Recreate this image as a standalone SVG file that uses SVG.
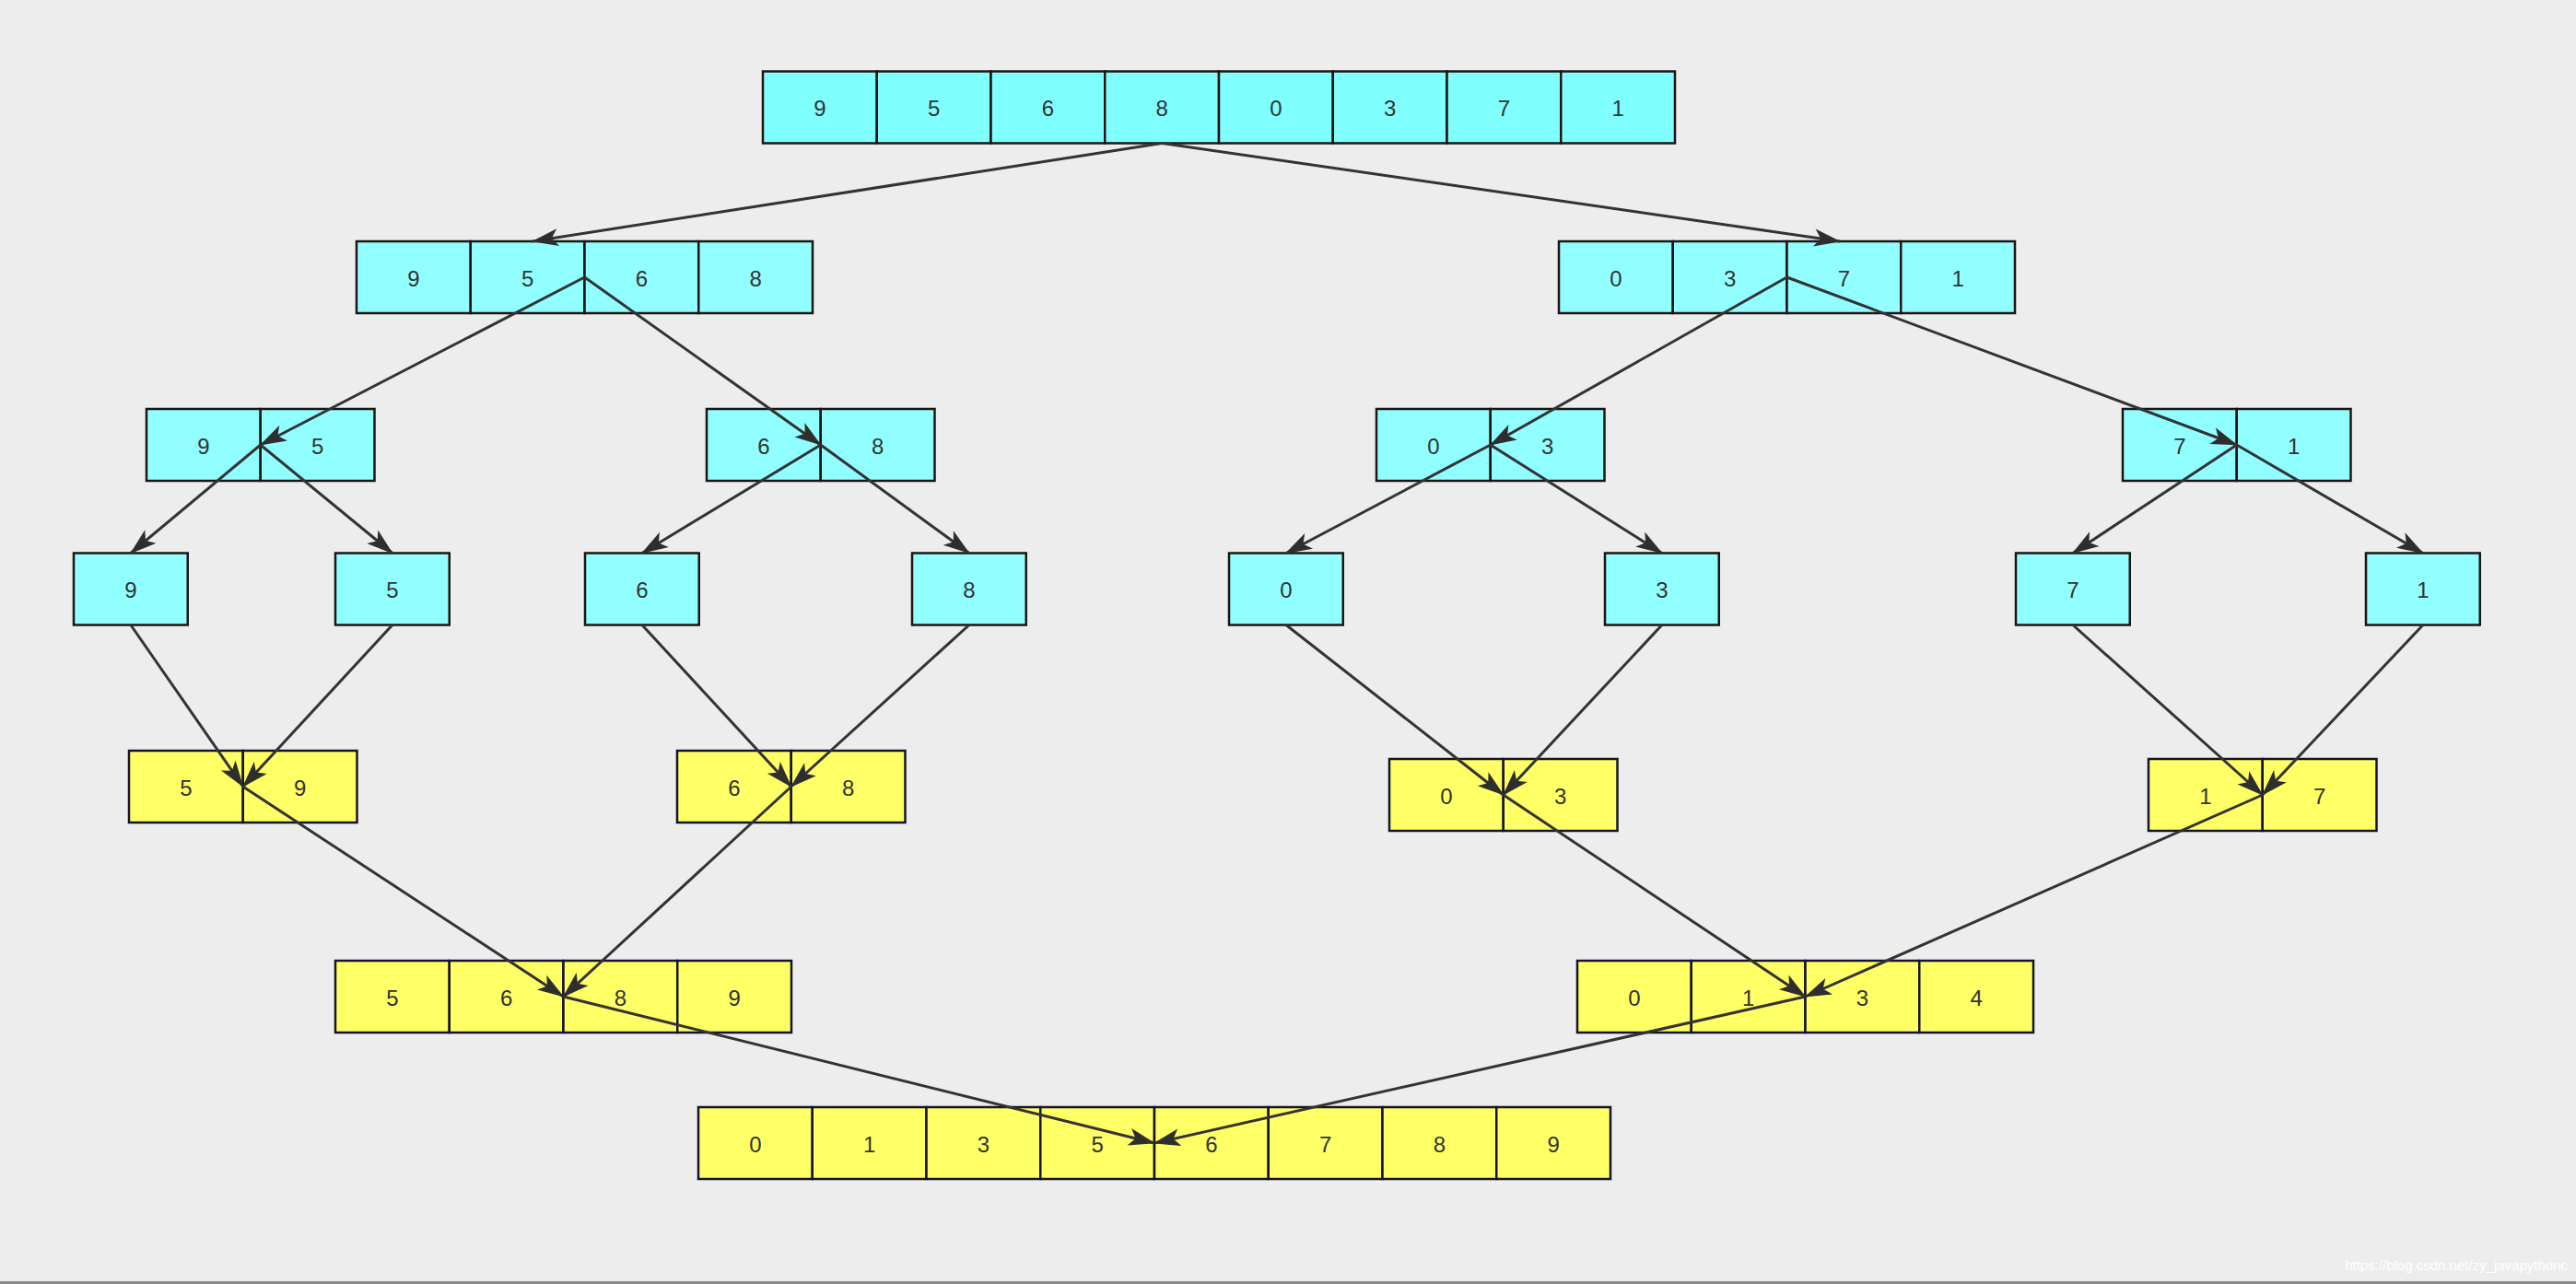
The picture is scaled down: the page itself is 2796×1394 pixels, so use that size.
<svg xmlns="http://www.w3.org/2000/svg" width="2796" height="1394" viewBox="0 0 2796 1394">
<style>
.c0{fill:#80ffff;stroke:#1e1414;stroke-width:2.5}
.c{fill:#91ffff;stroke:#1e1414;stroke-width:2.5}
.y{fill:#ffff66;stroke:#14142a;stroke-width:2.5}
text.t{font-family:"Liberation Sans","DejaVu Sans",sans-serif;font-size:24px;fill:#333;text-anchor:middle;dominant-baseline:central}
#connectors line{stroke:#333;stroke-width:3;fill:none;marker-end:url(#ah)}
</style>
<defs>
<marker id="ah" markerUnits="userSpaceOnUse" viewBox="-30 -11 32 22" refX="0" refY="0" markerWidth="32" markerHeight="22" orient="auto">
<path d="M1,0 L-28,-9.5 L-21,0 L-28,9.5 Z" fill="#2e2e2e"/>
</marker>
</defs>
<rect width="2796" height="1394" fill="#ededed"/>
<rect x="0" y="1391" width="2796" height="3" fill="#8a8a8a"/>
<text x="2787" y="1379" font-family="Liberation Sans, Arial, sans-serif" font-size="15" fill="#ffffff" text-anchor="end">https://blog.csdn.net/zy_javapythonc</text>

<g id="n1">
<rect class="c0" x="828" y="77.5" width="123.75" height="78"/><rect class="c0" x="951.75" y="77.5" width="123.75" height="78"/><rect class="c0" x="1075.5" y="77.5" width="123.75" height="78"/><rect class="c0" x="1199.25" y="77.5" width="123.75" height="78"/><rect class="c0" x="1323" y="77.5" width="123.75" height="78"/><rect class="c0" x="1446.75" y="77.5" width="123.75" height="78"/><rect class="c0" x="1570.5" y="77.5" width="123.75" height="78"/><rect class="c0" x="1694.25" y="77.5" width="123.75" height="78"/>
<text class="t" x="889.9" y="117.5">9</text><text class="t" x="1013.6" y="117.5">5</text><text class="t" x="1137.4" y="117.5">6</text><text class="t" x="1261.1" y="117.5">8</text><text class="t" x="1384.9" y="117.5">0</text><text class="t" x="1508.6" y="117.5">3</text><text class="t" x="1632.4" y="117.5">7</text><text class="t" x="1756.1" y="117.5">1</text>
</g>

<g id="n2L">
<rect class="c" x="387" y="262" width="123.75" height="78"/><rect class="c" x="510.75" y="262" width="123.75" height="78"/><rect class="c" x="634.5" y="262" width="123.75" height="78"/><rect class="c" x="758.25" y="262" width="123.75" height="78"/>
<text class="t" x="448.9" y="302">9</text><text class="t" x="572.6" y="302">5</text><text class="t" x="696.4" y="302">6</text><text class="t" x="820.1" y="302">8</text>
</g>
<g id="n2R">
<rect class="c" x="1692" y="262" width="123.75" height="78"/><rect class="c" x="1815.75" y="262" width="123.75" height="78"/><rect class="c" x="1939.5" y="262" width="123.75" height="78"/><rect class="c" x="2063.25" y="262" width="123.75" height="78"/>
<text class="t" x="1753.9" y="302">0</text><text class="t" x="1877.6" y="302">3</text><text class="t" x="2001.4" y="302">7</text><text class="t" x="2125.1" y="302">1</text>
</g>

<g id="n3a">
<rect class="c" x="159" y="444" width="123.75" height="78"/><rect class="c" x="282.75" y="444" width="123.75" height="78"/>
<text class="t" x="220.9" y="484">9</text><text class="t" x="344.6" y="484">5</text>
</g>
<g id="n3b">
<rect class="c" x="767" y="444" width="123.75" height="78"/><rect class="c" x="890.75" y="444" width="123.75" height="78"/>
<text class="t" x="828.9" y="484">6</text><text class="t" x="952.6" y="484">8</text>
</g>
<g id="n3c">
<rect class="c" x="1494" y="444" width="123.75" height="78"/><rect class="c" x="1617.75" y="444" width="123.75" height="78"/>
<text class="t" x="1555.9" y="484">0</text><text class="t" x="1679.6" y="484">3</text>
</g>
<g id="n3d">
<rect class="c" x="2304" y="444" width="123.75" height="78"/><rect class="c" x="2427.75" y="444" width="123.75" height="78"/>
<text class="t" x="2365.9" y="484">7</text><text class="t" x="2489.6" y="484">1</text>
</g>

<g id="n4a"><rect class="c" x="80" y="600.5" width="123.75" height="78"/><text class="t" x="141.9" y="640.5">9</text></g>
<g id="n4b"><rect class="c" x="364" y="600.5" width="123.75" height="78"/><text class="t" x="425.9" y="640.5">5</text></g>
<g id="n4c"><rect class="c" x="635" y="600.5" width="123.75" height="78"/><text class="t" x="696.9" y="640.5">6</text></g>
<g id="n4d"><rect class="c" x="990" y="600.5" width="123.75" height="78"/><text class="t" x="1051.9" y="640.5">8</text></g>
<g id="n4e"><rect class="c" x="1334" y="600.5" width="123.75" height="78"/><text class="t" x="1395.9" y="640.5">0</text></g>
<g id="n4f"><rect class="c" x="1742" y="600.5" width="123.75" height="78"/><text class="t" x="1803.9" y="640.5">3</text></g>
<g id="n4g"><rect class="c" x="2188" y="600.5" width="123.75" height="78"/><text class="t" x="2249.9" y="640.5">7</text></g>
<g id="n4h"><rect class="c" x="2568" y="600.5" width="123.75" height="78"/><text class="t" x="2629.9" y="640.5">1</text></g>

<g id="n5a">
<rect class="y" x="140" y="815" width="123.75" height="78"/><rect class="y" x="263.75" y="815" width="123.75" height="78"/>
<text class="t" x="201.9" y="855">5</text><text class="t" x="325.6" y="855">9</text>
</g>
<g id="n5b">
<rect class="y" x="735" y="815" width="123.75" height="78"/><rect class="y" x="858.75" y="815" width="123.75" height="78"/>
<text class="t" x="796.9" y="855">6</text><text class="t" x="920.6" y="855">8</text>
</g>
<g id="n5c">
<rect class="y" x="1508" y="824" width="123.75" height="78"/><rect class="y" x="1631.75" y="824" width="123.75" height="78"/>
<text class="t" x="1569.9" y="864">0</text><text class="t" x="1693.6" y="864">3</text>
</g>
<g id="n5d">
<rect class="y" x="2332" y="824" width="123.75" height="78"/><rect class="y" x="2455.75" y="824" width="123.75" height="78"/>
<text class="t" x="2393.9" y="864">1</text><text class="t" x="2517.6" y="864">7</text>
</g>

<g id="n6L">
<rect class="y" x="364" y="1043" width="123.75" height="78"/><rect class="y" x="487.75" y="1043" width="123.75" height="78"/><rect class="y" x="611.5" y="1043" width="123.75" height="78"/><rect class="y" x="735.25" y="1043" width="123.75" height="78"/>
<text class="t" x="425.9" y="1083">5</text><text class="t" x="549.6" y="1083">6</text><text class="t" x="673.4" y="1083">8</text><text class="t" x="797.1" y="1083">9</text>
</g>
<g id="n6R">
<rect class="y" x="1712" y="1043" width="123.75" height="78"/><rect class="y" x="1835.75" y="1043" width="123.75" height="78"/><rect class="y" x="1959.5" y="1043" width="123.75" height="78"/><rect class="y" x="2083.25" y="1043" width="123.75" height="78"/>
<text class="t" x="1773.9" y="1083">0</text><text class="t" x="1897.6" y="1083">1</text><text class="t" x="2021.4" y="1083">3</text><text class="t" x="2145.1" y="1083">4</text>
</g>

<g id="n7">
<rect class="y" x="758" y="1202" width="123.75" height="78"/><rect class="y" x="881.75" y="1202" width="123.75" height="78"/><rect class="y" x="1005.5" y="1202" width="123.75" height="78"/><rect class="y" x="1129.25" y="1202" width="123.75" height="78"/><rect class="y" x="1253" y="1202" width="123.75" height="78"/><rect class="y" x="1376.75" y="1202" width="123.75" height="78"/><rect class="y" x="1500.5" y="1202" width="123.75" height="78"/><rect class="y" x="1624.25" y="1202" width="123.75" height="78"/>
<text class="t" x="819.9" y="1242">0</text><text class="t" x="943.6" y="1242">1</text><text class="t" x="1067.4" y="1242">3</text><text class="t" x="1191.1" y="1242">5</text><text class="t" x="1314.9" y="1242">6</text><text class="t" x="1438.6" y="1242">7</text><text class="t" x="1562.4" y="1242">8</text><text class="t" x="1686.1" y="1242">9</text>
</g>

<g id="connectors">
<line x1="1261" y1="155.5" x2="578" y2="262"/>
<line x1="1261" y1="155.5" x2="1997" y2="262"/>
<line x1="634.5" y1="301" x2="282.75" y2="483"/>
<line x1="634.5" y1="301" x2="890.75" y2="483"/>
<line x1="1939.5" y1="301" x2="1617.75" y2="483"/>
<line x1="1939.5" y1="301" x2="2427.75" y2="483"/>
<line x1="282.75" y1="483" x2="141.9" y2="600.5"/>
<line x1="282.75" y1="483" x2="425.9" y2="600.5"/>
<line x1="890.75" y1="483" x2="696.9" y2="600.5"/>
<line x1="890.75" y1="483" x2="1051.9" y2="600.5"/>
<line x1="1617.75" y1="483" x2="1395.9" y2="600.5"/>
<line x1="1617.75" y1="483" x2="1803.9" y2="600.5"/>
<line x1="2427.75" y1="483" x2="2249.9" y2="600.5"/>
<line x1="2427.75" y1="483" x2="2629.9" y2="600.5"/>
<line x1="141.9" y1="678.5" x2="263.75" y2="854"/>
<line x1="425.9" y1="678.5" x2="263.75" y2="854"/>
<line x1="696.9" y1="678.5" x2="858.75" y2="854"/>
<line x1="1051.9" y1="678.5" x2="858.75" y2="854"/>
<line x1="1395.9" y1="678.5" x2="1631.75" y2="863"/>
<line x1="1803.9" y1="678.5" x2="1631.75" y2="863"/>
<line x1="2249.9" y1="678.5" x2="2455.75" y2="863"/>
<line x1="2629.9" y1="678.5" x2="2455.75" y2="863"/>
<line x1="263.75" y1="854" x2="611.5" y2="1082"/>
<line x1="858.75" y1="854" x2="611.5" y2="1082"/>
<line x1="1631.75" y1="863" x2="1959.5" y2="1082"/>
<line x1="2455.75" y1="863" x2="1959.5" y2="1082"/>
<line x1="611.5" y1="1082" x2="1253" y2="1241"/>
<line x1="1959.5" y1="1082" x2="1253" y2="1241"/>
</g>
</svg>
